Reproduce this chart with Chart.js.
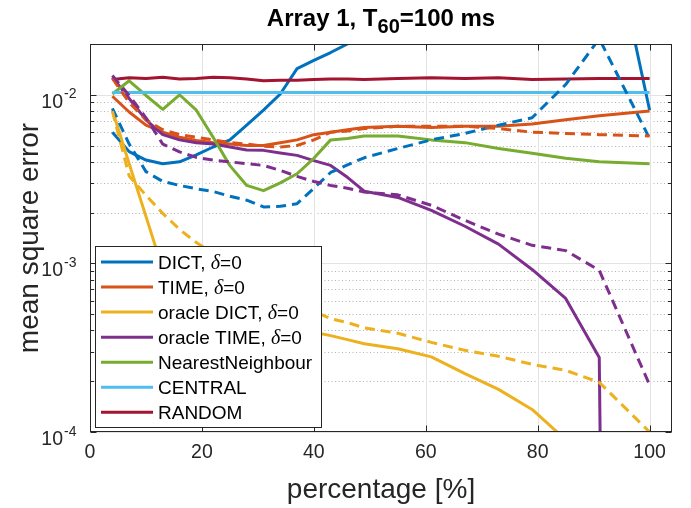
<!DOCTYPE html>
<html lang="en">
<head>
<meta charset="UTF-8">
<title>Array 1</title>
<script src="https://cdn.jsdelivr.net/npm/chart.js"></script>
<style>
  body { margin: 0; background: #fff; }
  #wrap { width: 691px; height: 508px; }
</style>
</head>
<body>
<div id="wrap"><canvas id="chart" width="691" height="508"></canvas></div>
<script>
// percentage of observed positions
const X = [4, 7, 10, 13, 16, 19, 22, 25, 28, 31, 34, 37, 40, 43, 46, 49, 55, 61, 67, 73, 79, 85, 91, 100];

// solid lines (delta = 0)
const dict = [0.0060, 0.0046, 0.0041, 0.0039, 0.0040, 0.0044, 0.0049, 0.0054, 0.0066, 0.0081, 0.0101, 0.0143,
  0.0160, 0.0178, 0.0200, 0.023, 0.030, 0.040, 0.050, 0.065, 0.085, 0.12, 0.20, 0.0081];
const time = [0.0098, 0.0079, 0.0066, 0.0060, 0.0056, 0.00535, 0.0052, 0.0051, 0.0050, 0.0050, 0.0052, 0.0054,
  0.0058, 0.0060, 0.0062, 0.0064, 0.0065, 0.0064, 0.0065, 0.0065, 0.0067, 0.0071, 0.0075, 0.0080];
const oracleDict = [0.0081, 0.0039, 0.0019, 0.00092, 0.0007, 0.0006, 0.00053, 0.0005, 0.00047, 0.00045, 0.00043, 0.00041,
  0.00039, 0.000373, 0.000353, 0.000334, 0.000312, 0.000279, 0.000222, 0.000179, 0.000136, 0.00009, 0.00006, 0.00004];
const oracleTime = [0.0127, 0.0095, 0.0071, 0.0058, 0.0054, 0.0052, 0.0051, 0.0049, 0.0047, 0.00468, 0.00452, 0.00437,
  0.00407, 0.00381, 0.00324, 0.00268, 0.00246, 0.00206, 0.00166, 0.0013, 0.00092, 0.00062, 0.000277, 1e-30];
const nearest = [0.0101, 0.0121, 0.0099, 0.0082, 0.0100, 0.0081, 0.0056, 0.0038, 0.0029, 0.0027, 0.0030, 0.0034,
  0.0042, 0.0054, 0.0055, 0.0057, 0.0057, 0.0054, 0.0052, 0.0048, 0.0045, 0.0042, 0.0040, 0.0039];
const central = [0.0103, 0.0103, 0.0103, 0.0103, 0.0103, 0.0103, 0.0103, 0.0103, 0.0103, 0.0103, 0.0103, 0.0103,
  0.0103, 0.0103, 0.0103, 0.0103, 0.0103, 0.0103, 0.0103, 0.0103, 0.0103, 0.0103, 0.0103, 0.0103];
const random = [0.0123, 0.0126, 0.0125, 0.0127, 0.0124, 0.0125, 0.0127, 0.0126, 0.0124, 0.0121, 0.0122, 0.0122,
  0.0123, 0.0124, 0.0124, 0.0123, 0.0125, 0.0126, 0.0125, 0.0126, 0.0123, 0.0124, 0.0125, 0.0125];

// dashed lines (delta != 0)
const dictD = [0.0083, 0.0051, 0.0035, 0.00306, 0.0029, 0.00277, 0.00267, 0.0025, 0.00237, 0.00216, 0.00218, 0.00226,
  0.00279, 0.00346, 0.00384, 0.00423, 0.0048, 0.0054, 0.0059, 0.0066, 0.0073, 0.0115, 0.0215, 0.0055];
const timeD = [0.0125, 0.0090, 0.0071, 0.0062, 0.0058, 0.0056, 0.0054, 0.0052, 0.0051, 0.00495, 0.0049, 0.0050,
  0.0054, 0.0060, 0.0061, 0.0063, 0.0065, 0.0065, 0.0065, 0.0063, 0.0060, 0.0059, 0.0058, 0.0057];
const oracleDictD = [0.0080, 0.0033, 0.00253, 0.00198, 0.00159, 0.00133, 0.00115, 0.0010, 0.0009, 0.0008, 0.0007, 0.0006,
  0.00052, 0.00047, 0.000446, 0.000415, 0.000385, 0.00034, 0.000305, 0.000281, 0.000252, 0.000232, 0.000197, 0.0001];
const oracleTimeD = [0.0130, 0.0099, 0.0073, 0.0051, 0.00458, 0.00425, 0.0041, 0.0040, 0.0039, 0.00381, 0.00356, 0.00328,
  0.00306, 0.0029, 0.00279, 0.00265, 0.00255, 0.00221, 0.0018, 0.00149, 0.00128, 0.00119, 0.00091, 0.00019];

const LABELS = ['DICT, δ=0', 'TIME, δ=0', 'oracle DICT, δ=0', 'oracle TIME, δ=0', 'NearestNeighbour', 'CENTRAL', 'RANDOM'];
const COLORS = ['#0072BD', '#D95319', '#EDB120', '#7E2F8E', '#77AC30', '#4DBEEE', '#A2142F'];
const X_TICKS = [0, 20, 40, 60, 80, 100];
const Y_DECADES = [-4, -3, -2];

const solid = [dict, time, oracleDict, oracleTime, nearest, central, random];
const dashed = [dictD, timeD, oracleDictD, oracleTimeD];

const pts = ys => X.map((x, i) => ({ x: x, y: ys[i] }));
const datasets = [];
solid.forEach((ys, i) => datasets.push({ label: LABELS[i], data: pts(ys), borderColor: COLORS[i] }));
dashed.forEach((ys, i) => datasets.push({ label: LABELS[i] + ' dashed', data: pts(ys), borderColor: COLORS[i], borderDash: [10, 6] }));
// first plotted sits at the bottom
datasets.forEach((d, i) => {
  d.order = datasets.length - i;
  d.borderWidth = 3;
  d.pointRadius = 0;
  d.tension = 0;
  d.fill = false;
  d.borderJoinStyle = 'round';
});

const INK = '#262626';

const axesPlugin = {
  id: 'matlabAxes',
  beforeDatasetsDraw(chart) {
    const { ctx, chartArea: a, scales: { x, y } } = chart;
    ctx.save();
    ctx.lineWidth = 1;
    // minor y grid
    ctx.strokeStyle = 'rgba(38,38,38,0.35)';
    ctx.setLineDash([1, 2.5]);
    Y_DECADES.forEach(e => {
      for (let m = 2; m <= 9; m++) {
        const v = m * Math.pow(10, e);
        if (v > y.max) continue;
        const py = Math.round(y.getPixelForValue(v)) + 0.5;
        ctx.beginPath(); ctx.moveTo(a.left, py); ctx.lineTo(a.right, py); ctx.stroke();
      }
    });
    // major grid
    ctx.setLineDash([]);
    ctx.strokeStyle = '#e3e3e3';
    Y_DECADES.forEach(e => {
      const py = Math.round(y.getPixelForValue(Math.pow(10, e))) + 0.5;
      ctx.beginPath(); ctx.moveTo(a.left, py); ctx.lineTo(a.right, py); ctx.stroke();
    });
    X_TICKS.forEach(v => {
      const px = Math.round(x.getPixelForValue(v)) + 0.5;
      ctx.beginPath(); ctx.moveTo(px, a.top); ctx.lineTo(px, a.bottom); ctx.stroke();
    });
    ctx.restore();
  },
  afterDatasetsDraw(chart) {
    const { ctx, chartArea: a, scales: { x, y } } = chart;
    ctx.save();
    ctx.strokeStyle = INK;
    ctx.fillStyle = INK;
    ctx.lineWidth = 1;
    const L = Math.round(a.left) + 0.5, R = Math.round(a.right) - 0.5;
    const T = Math.round(a.top) + 0.5, B = Math.round(a.bottom) - 0.5;
    ctx.strokeRect(L, T, R - L, B - T);

    // ticks pointing inward
    X_TICKS.forEach(v => {
      const px = Math.round(x.getPixelForValue(v)) + 0.5;
      ctx.beginPath();
      ctx.moveTo(px, B); ctx.lineTo(px, B - 6);
      ctx.moveTo(px, T); ctx.lineTo(px, T + 6);
      ctx.stroke();
    });
    Y_DECADES.forEach(e => {
      for (let m = 1; m <= 9; m++) {
        const v = m * Math.pow(10, e);
        if (v > y.max) continue;
        const py = Math.round(y.getPixelForValue(v)) + 0.5;
        const len = m === 1 ? 6 : 3.5;
        ctx.beginPath();
        ctx.moveTo(L, py); ctx.lineTo(L + len, py);
        ctx.moveTo(R, py); ctx.lineTo(R - len, py);
        ctx.stroke();
      }
    });

    // tick labels
    ctx.font = '19.5px "Liberation Sans", Arial, sans-serif';
    ctx.textAlign = 'center';
    ctx.textBaseline = 'alphabetic';
    X_TICKS.forEach(v => ctx.fillText(String(v), x.getPixelForValue(v), a.bottom + 26));
    Y_DECADES.forEach(e => {
      const py = y.getPixelForValue(Math.pow(10, e));
      ctx.font = '19.5px "Liberation Sans", Arial, sans-serif';
      ctx.textAlign = 'right';
      ctx.fillText('10', 63, py + 13);
      ctx.font = '14px "Liberation Sans", Arial, sans-serif';
      ctx.textAlign = 'left';
      ctx.fillText(String(e), 64, py + 3.5);
    });

    // axis titles
    ctx.font = '28px "Liberation Sans", Arial, sans-serif';
    ctx.textAlign = 'center';
    ctx.fillText('percentage [%]', (a.left + a.right) / 2, 498);
    ctx.save();
    ctx.translate(38, (a.top + a.bottom) / 2);
    ctx.rotate(-Math.PI / 2);
    ctx.fillText('mean square error', 0, 0);
    ctx.restore();

    // title with subscript
    ctx.fillStyle = '#000';
    const big = 'bold 24px "Liberation Sans", Arial, sans-serif';
    const small = 'bold 20px "Liberation Sans", Arial, sans-serif';
    const parts = [['Array 1, T', big, 0], ['60', small, 7], ['=100 ms', big, 0]];
    let total = 0;
    parts.forEach(p => { ctx.font = p[1]; total += ctx.measureText(p[0]).width; });
    let tx = (a.left + a.right) / 2 - total / 2;
    ctx.textAlign = 'left';
    parts.forEach(p => {
      ctx.font = p[1];
      ctx.fillText(p[0], tx, 26 + p[2]);
      tx += ctx.measureText(p[0]).width;
    });

    // legend box
    const lx = 95, ly = 246, lw = 226, lh = 181;
    ctx.fillStyle = '#fff';
    ctx.fillRect(lx, ly, lw, lh);
    ctx.strokeStyle = INK;
    ctx.strokeRect(lx + 0.5, ly + 0.5, lw, lh);
    LABELS.forEach((lab, i) => {
      const ry = 262 + i * 25.05;
      ctx.strokeStyle = chart.data.datasets[i].borderColor;
      ctx.lineWidth = 3;
      ctx.beginPath(); ctx.moveTo(101, ry); ctx.lineTo(153, ry); ctx.stroke();
      ctx.fillStyle = '#000';
      let cx = 158;
      const bits = lab.split('δ');
      bits.forEach((b, k) => {
        ctx.font = '19px "Liberation Sans", Arial, sans-serif';
        ctx.fillText(b, cx, ry + 7);
        cx += ctx.measureText(b).width;
        if (k < bits.length - 1) {
          ctx.font = 'italic 20px "Liberation Serif", "Times New Roman", serif';
          ctx.fillText('δ', cx, ry + 7);
          cx += ctx.measureText('δ').width;
        }
      });
    });
    ctx.restore();
  }
};

new Chart(document.getElementById('chart').getContext('2d'), {
  type: 'line',
  data: { datasets: datasets },
  options: {
    responsive: false,
    animation: false,
    layout: { padding: { top: 44, right: 19, left: 0, bottom: 0 } },
    plugins: { legend: { display: false }, tooltip: { enabled: false }, title: { display: false } },
    scales: {
      x: {
        type: 'linear', min: 0, max: 104,
        afterBuildTicks: s => { s.ticks = X_TICKS.map(v => ({ value: v })); },
        afterFit: s => { s.height = 76; },
        ticks: { display: false }, grid: { display: false }, border: { display: false }
      },
      y: {
        type: 'logarithmic', min: 1e-4, max: 0.02,
        afterFit: s => { s.width = 90; },
        ticks: { display: false }, grid: { display: false }, border: { display: false }
      }
    }
  },
  plugins: [axesPlugin]
});
</script>
</body>
</html>
